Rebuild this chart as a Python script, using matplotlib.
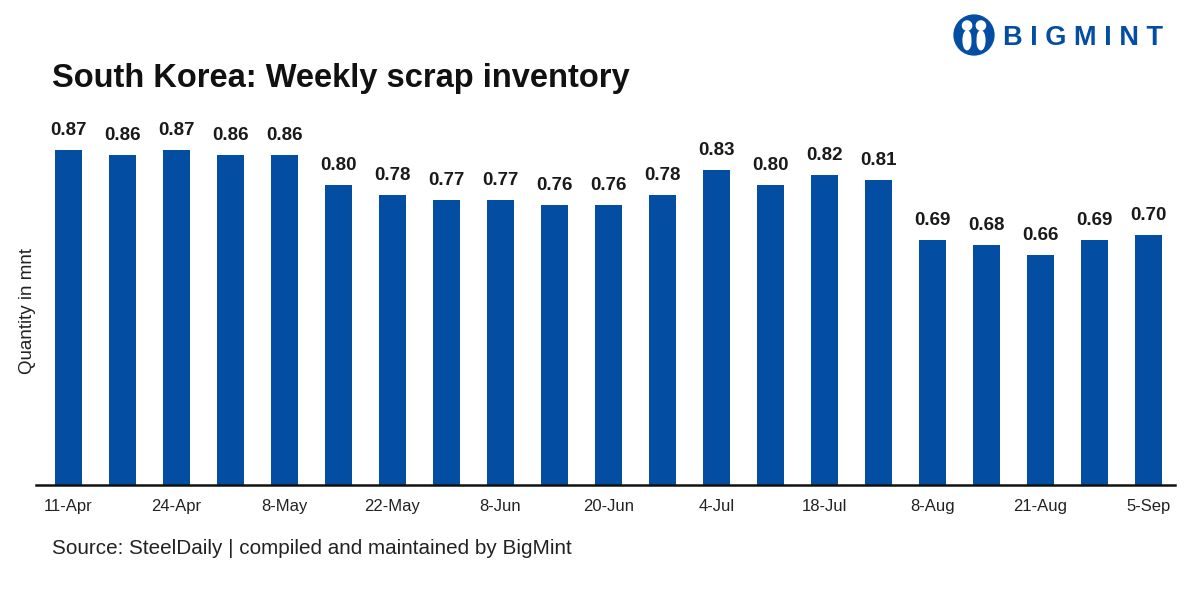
import numpy as np
import matplotlib.pyplot as plt
from matplotlib.patches import Circle, Ellipse

plt.rcParams['font.family'] = ['Liberation Sans', 'DejaVu Sans']

weeks = ['11-Apr', '', '24-Apr', '', '8-May', '', '22-May', '', '8-Jun', '',
         '20-Jun', '', '4-Jul', '', '18-Jul', '', '8-Aug', '', '21-Aug', '', '5-Sep']
inventory = [0.87, 0.86, 0.87, 0.86, 0.86, 0.80, 0.78, 0.77, 0.77, 0.76, 0.76,
             0.78, 0.83, 0.80, 0.82, 0.81, 0.69, 0.68, 0.66, 0.69, 0.70]

blue = '#034ea2'
W, H = 1189, 595

fig = plt.figure(figsize=(W / 100, H / 100), dpi=100)
ax = fig.add_axes([36 / W, 1 - 485 / H, (1175 - 36) / W, (485 - 120) / H])

x = np.arange(len(inventory))
bars = ax.bar(x, inventory, width=0.5, color=blue, bottom=0)
ax.set_ylim(0.2, 0.93)
ax.set_xlim(-0.6, 20.49)

for xi, v in zip(x, inventory):
    ax.annotate(f'{v:.2f}', (xi, v), xytext=(0, 8), textcoords='offset points',
                ha='center', va='bottom', fontsize=13.5, fontweight='bold', color='#1a1a1a')

ax.set_xticks(x)
ax.set_xticklabels(weeks, fontsize=12, color='#222222')
ax.tick_params(axis='x', length=0, pad=19)
for lab in ax.get_xticklabels():
    lab.set_verticalalignment('baseline')
ax.set_yticks([])
for s in ['top', 'right', 'left']:
    ax.spines[s].set_visible(False)
ax.spines['bottom'].set_linewidth(1.8)
ax.spines['bottom'].set_color('#111111')

fig.text(28 / W, 1 - 311 / H, 'Quantity in mnt', rotation=90, ha='center', va='center',
         fontsize=13.5, color='#222222')

fig.text(52 / W, 1 - 78 / H, 'South Korea: Weekly scrap inventory', ha='left', va='center',
         fontsize=23.5, fontweight='bold', color='#111111')

fig.text(52 / W, 1 - 549 / H, 'Source: SteelDaily | compiled and maintained by BigMint',
         ha='left', va='center', fontsize=14.9, color='#222222')

# logo
lax = fig.add_axes([953 / W, 1 - 56 / H, 42 / W, 42 / H])
lax.set_xlim(-1, 1)
lax.set_ylim(-1, 1)
lax.set_aspect('equal')
lax.axis('off')
lax.add_patch(Circle((0, 0), 0.95, color=blue))
lax.add_patch(Circle((-0.33, 0.45), 0.22, color='white'))
lax.add_patch(Circle((0.33, 0.45), 0.22, color='white'))
lax.add_patch(Ellipse((-0.33, -0.25), 0.38, 0.9, color='white'))
lax.add_patch(Ellipse((0.33, -0.25), 0.38, 0.9, color='white'))
lax.add_patch(Ellipse((0, -0.2), 0.16, 0.8, color=blue))
fig.text(1003 / W, 1 - 38 / H, 'B I G M I N T', ha='left', va='center',
         fontsize=19.5, fontweight='bold', color=blue)

fig.savefig('out.png', dpi=100)
